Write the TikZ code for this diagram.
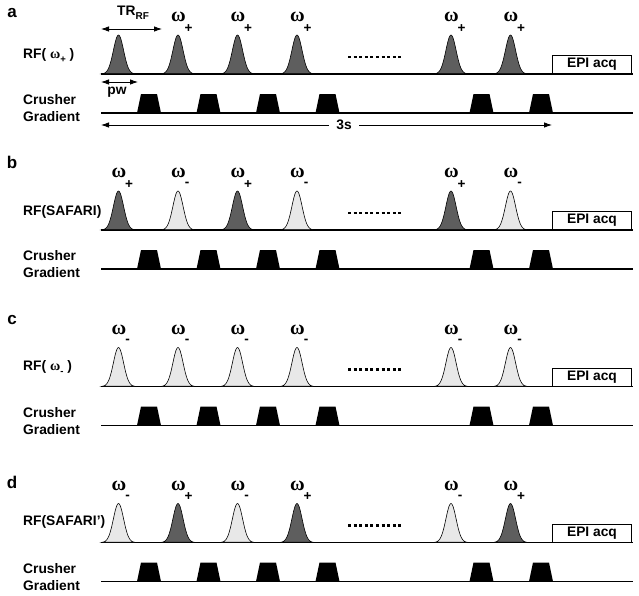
\documentclass[tikz,border=0pt]{standalone}
\usepackage{fontspec}
\setmainfont{Liberation Sans}
\newfontfamily\omfont{Liberation Serif}
\usetikzlibrary{arrows.meta}
\definecolor{pdark}{HTML}{5E5E5E}
\definecolor{plight}{HTML}{E8E8E8}
\tikzset{
  txt/.style={font=\bfseries\fontsize{13.8}{15}\selectfont, inner sep=0pt},
  lett/.style={font=\bfseries\fontsize{17}{17}\selectfont, inner sep=0pt},
  om/.style={font=\omfont\bfseries\fontsize{20}{20}\selectfont, inner sep=0pt},
  sub/.style={font=\bfseries\fontsize{13.5}{13.5}\selectfont, inner sep=0pt},
  baseln/.style={line width=1.6pt},
  dimarrow/.style={line width=0.8pt, {Latex[length=8pt,width=5.5pt]}-{Latex[length=8pt,width=5.5pt]}},
  dotsln/.style={line width=2.5pt, dash pattern=on 3pt off 2.6pt},
  pulseln/.style={line width=0.6pt},
  epibox/.style={draw, line width=1pt, minimum width=79pt, minimum height=18pt, anchor=south west, txt},
}
% pulse: x, baseline, colour
\newcommand\rfpulse[3]{%
  \draw[pulseln, fill=#3] plot[domain=-16:16, samples=49, smooth] ({#1+\x},{#2-39*exp(-(\x*\x)/(2*5.1*5.1))}) -- cycle;}
% trapezoid: centre x, gradient baseline
\newcommand\crush[2]{%
  \fill (#1-12,#2) -- (#1-8,#2-19) -- (#1+8,#2-19) -- (#1+12,#2) -- cycle;}
% omega label: x, baseline, sign, sub dx
\newcommand\omlab[4]{%
  \node[om] at (#1+0.5,#2-57) {ω};
  \node[sub] at (#1+#4,#2-45.5) {#3};}
% panel: baseline RF, list of signs (p = plus, m = minus, q = plus without label)
\newcommand\panelseq[2]{%
  \draw[baseln] (101,#1) -- (633,#1);
  \draw[baseln] (101,#1+39) -- (633,#1+39);
  \foreach \px/\sg in {#2}{%
    \if p\sg
      \rfpulse{\px}{#1}{pdark}\omlab{\px}{#1}{+}{10.5}
    \else\if q\sg
      \rfpulse{\px}{#1}{pdark}
    \else
      \rfpulse{\px}{#1}{plight}\omlab{\px}{#1}{-}{9}
    \fi\fi
    \crush{\px+30.5}{#1+39}
  }
  \draw[dotsln] (348,#1-17) -- (403,#1-17);
  \node[epibox] at (552,#1) {EPI acq};
  \node[txt, anchor=west] at (23,#1+26) {Crusher};
  \node[txt, anchor=west] at (23,#1+43) {Gradient};
}
\begin{document}
\begin{tikzpicture}[x=1pt,y=-1pt]
\useasboundingbox (0,0) rectangle (639,595);
% ---- panel a
\node[lett] (la) at (12,13) {a};
\panelseq{74}{118.5/q,178/p,237.5/p,297/p,451/p,510.5/p}
\node[txt, anchor=west] (rfa) at (23,55) {RF( {\omfont\fontsize{14}{14}\selectfont ω}\raisebox{-4pt}{\fontsize{9.5}{9.5}\selectfont +} )};
\coordinate (tr1) at (101,29); \coordinate (tr2) at (162,29);
\draw[dimarrow] (tr1) -- (tr2);
\node[txt] (trl) at (133,13) {TR\raisebox{-4.5pt}{\fontsize{10}{10}\selectfont RF}};
\coordinate (pw1) at (101,82); \coordinate (pw2) at (138,82);
\draw[dimarrow] (pw1) -- (pw2);
\node[txt] (pwl) at (117,92) {pw};
\coordinate (ts1) at (101,125); \coordinate (ts2) at (552,125);
\draw[dimarrow] (ts1) -- (ts2);
\node[txt, fill=white, inner xsep=7pt, inner ysep=2pt] (tsl) at (344,125) {3s};
% ---- panel b
\node[lett] (lb) at (12,162) {b};
\panelseq{230}{118.5/p,178/m,237.5/p,297/m,451/p,510.5/m}
\node[txt, anchor=west] (rfb) at (23,212) {RF(SAFARI)};
% ---- panel c
\node[lett] (lc) at (12,320) {c};
\panelseq{386.5}{118.5/m,178/m,237.5/m,297/m,451/m,510.5/m}
\node[txt, anchor=west] (rfc) at (23,367) {RF( {\omfont\fontsize{14}{14}\selectfont ω}\raisebox{-4pt}{\fontsize{9.5}{9.5}\selectfont -} )};
% ---- panel d
\node[lett] (ld) at (12,482) {d};
\panelseq{542.5}{118.5/m,178/p,237.5/m,297/p,451/m,510.5/p}
\node[txt, anchor=west] (rfd) at (23,522) {RF(SAFARI')};
\end{tikzpicture}
\end{document}
